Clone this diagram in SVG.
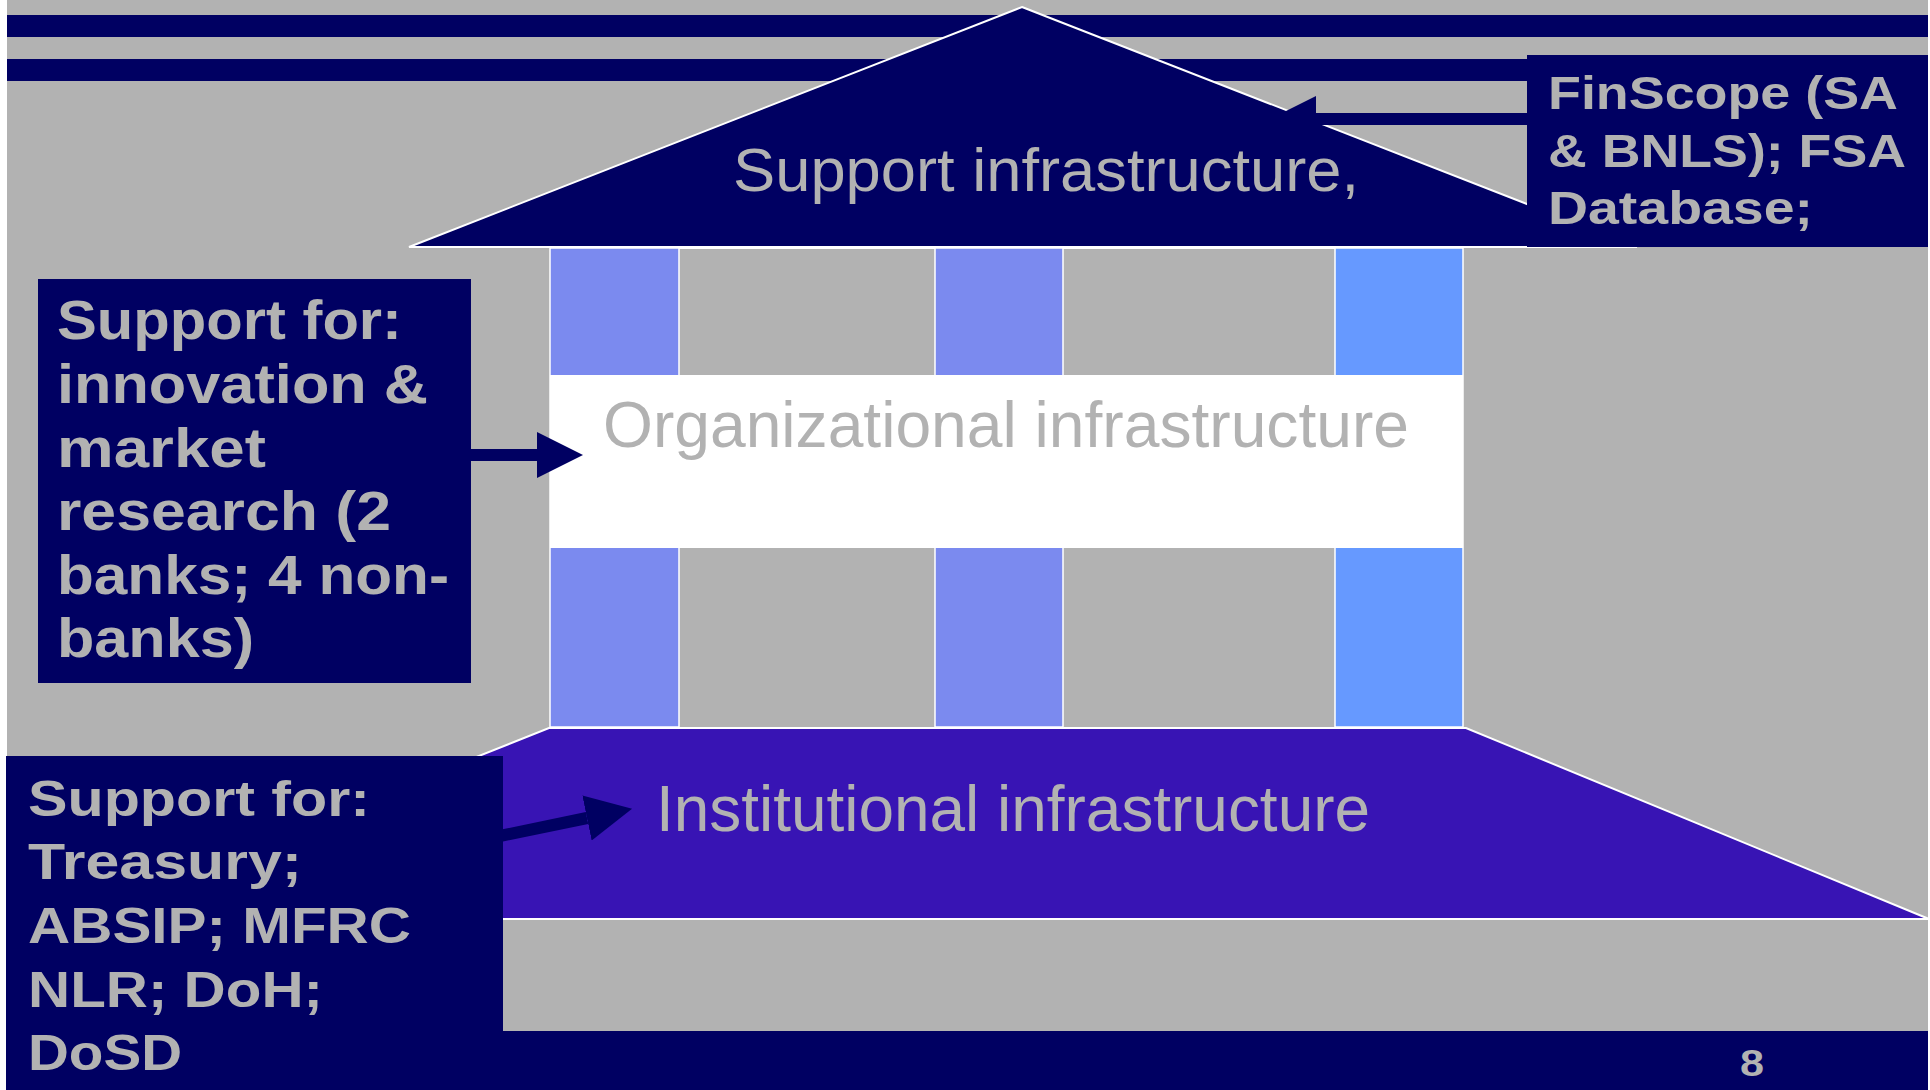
<svg xmlns="http://www.w3.org/2000/svg" width="1930" height="1090" viewBox="0 0 1930 1090">
  <defs>
    <style>
      .navy { fill: #000062; }
      .outline { stroke: #ffffff; stroke-width: 2; stroke-linejoin: miter; }
      .label { font-family: "Liberation Sans", Arial, sans-serif; fill: #b2b2b2; }
      .bold { font-weight: bold; }
      .shaft { stroke: #000062; stroke-width: 12; fill: none; }
      .pillar-a { fill: #7b8aef; stroke: #ffffff; stroke-width: 1.5; }
      .pillar-b { fill: #6699ff; stroke: #ffffff; stroke-width: 1.5; }
    </style>
    <marker id="head" markerUnits="userSpaceOnUse" markerWidth="46" markerHeight="46" viewBox="0 0 46 46" refX="0" refY="23" orient="auto">
      <path d="M0,0 L46,23 L0,46 z" fill="#000062"/>
    </marker>
  </defs>

  <!-- page background -->
  <rect x="0" y="0" width="1930" height="1090" fill="#ffffff"/>
  <rect x="7" y="0" width="1921" height="1090" fill="#b2b2b2"/>
  <rect class="navy" x="7" y="15" width="1921" height="22"/>
  <rect class="navy" x="7" y="59" width="1921" height="22"/>
  <rect class="navy" x="7" y="1031" width="1921" height="59"/>

  <!-- roof: support infrastructure -->
  <g id="roof">
    <polygon class="navy outline" points="1022,7 1637,247 409,247"/>
    <text class="label" x="733" y="191" font-size="62" textLength="626" lengthAdjust="spacingAndGlyphs">Support infrastructure,</text>
  </g>

  <!-- pillars -->
  <g id="pillars">
    <rect class="pillar-a" x="550" y="248" width="129" height="479"/>
    <rect class="pillar-a" x="935" y="248" width="128" height="479"/>
    <rect class="pillar-b" x="1335" y="248" width="128" height="479"/>
    <line class="outline" x1="679" y1="248" x2="935" y2="248"/>
    <line class="outline" x1="1063" y1="248" x2="1335" y2="248"/>
  </g>

  <!-- beam: organizational infrastructure -->
  <g id="beam">
    <rect x="550" y="375" width="913" height="173" fill="#ffffff"/>
    <text class="label" x="603" y="447" font-size="65" textLength="806" lengthAdjust="spacingAndGlyphs">Organizational infrastructure</text>
  </g>

  <!-- base: institutional infrastructure -->
  <g id="base">
    <polygon class="outline" fill="#3814b4" points="549,728 1466,728 1929,919 70,919"/>
    <text class="label" x="656" y="831" font-size="64" textLength="714" lengthAdjust="spacingAndGlyphs">Institutional infrastructure</text>
  </g>

  <!-- connectors -->
  <g id="connectors">
    <line class="shaft" x1="1530" y1="119" x2="1316" y2="119" marker-end="url(#head)"/>
    <line class="shaft" x1="470" y1="455" x2="537" y2="455" marker-end="url(#head)"/>
    <line class="shaft" x1="495" y1="837" x2="587" y2="818" marker-end="url(#head)"/>
  </g>

  <!-- note: data sources -->
  <g id="note-data">
    <rect class="navy" x="1527" y="55" width="401" height="192"/>
    <text class="label bold" x="1548" y="109" font-size="47" textLength="350" lengthAdjust="spacingAndGlyphs">FinScope (SA</text>
    <text class="label bold" x="1548" y="167" font-size="47" textLength="358" lengthAdjust="spacingAndGlyphs">&amp; BNLS); FSA</text>
    <text class="label bold" x="1548" y="224" font-size="47" textLength="265" lengthAdjust="spacingAndGlyphs">Database;</text>
  </g>

  <!-- note: innovation support -->
  <g id="note-innovation">
    <rect class="navy" x="38" y="279" width="433" height="404"/>
    <text class="label bold" x="57" y="339" font-size="56" textLength="345" lengthAdjust="spacingAndGlyphs">Support for:</text>
    <text class="label bold" x="57" y="403" font-size="56" textLength="371" lengthAdjust="spacingAndGlyphs">innovation &amp;</text>
    <text class="label bold" x="57" y="467" font-size="56" textLength="209" lengthAdjust="spacingAndGlyphs">market</text>
    <text class="label bold" x="57" y="530" font-size="56" textLength="334" lengthAdjust="spacingAndGlyphs">research (2</text>
    <text class="label bold" x="57" y="594" font-size="56" textLength="392" lengthAdjust="spacingAndGlyphs">banks; 4 non-</text>
    <text class="label bold" x="57" y="657" font-size="56" textLength="197" lengthAdjust="spacingAndGlyphs">banks)</text>
  </g>

  <!-- note: institutional support -->
  <g id="note-institutional">
    <rect class="navy" x="6" y="756" width="497" height="334"/>
    <text class="label bold" x="28" y="816" font-size="50" textLength="342" lengthAdjust="spacingAndGlyphs">Support for:</text>
    <text class="label bold" x="28" y="879" font-size="50" textLength="274" lengthAdjust="spacingAndGlyphs">Treasury;</text>
    <text class="label bold" x="28" y="943" font-size="50" textLength="383" lengthAdjust="spacingAndGlyphs">ABSIP; MFRC</text>
    <text class="label bold" x="28" y="1007" font-size="50" textLength="295" lengthAdjust="spacingAndGlyphs">NLR; DoH;</text>
    <text class="label bold" x="28" y="1070" font-size="50" textLength="154" lengthAdjust="spacingAndGlyphs">DoSD</text>
  </g>

  <!-- page number -->
  <g id="page-number">
    <text class="label bold" x="1740" y="1076" font-size="37" textLength="24" lengthAdjust="spacingAndGlyphs">8</text>
  </g>
</svg>
